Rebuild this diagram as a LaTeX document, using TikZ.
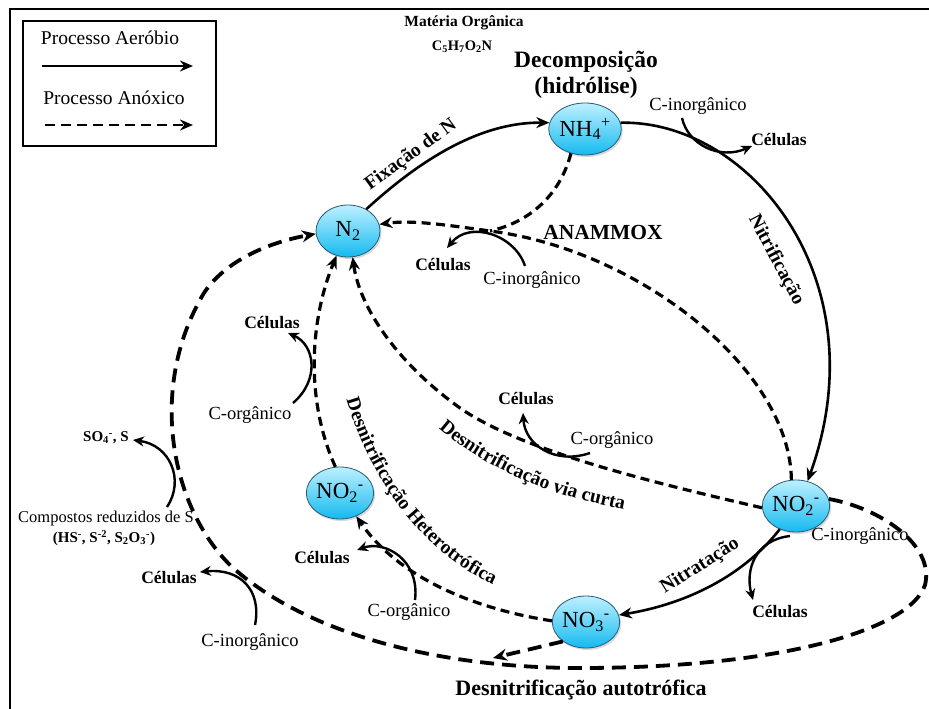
\documentclass[tikz,border=0pt]{standalone}
\usepackage{fontspec}
\setmainfont{Liberation Serif}
\usetikzlibrary{arrows.meta,shapes.geometric,shadows,decorations.text}
\definecolor{topcyan}{RGB}{190,240,255}
\definecolor{botcyan}{RGB}{20,186,240}
\definecolor{edgeblue}{RGB}{40,90,120}
\begin{document}
\begin{tikzpicture}[x=1pt,y=1pt,
  every node/.style={inner sep=0pt},
  chem/.style={ellipse, draw=edgeblue, line width=0.8pt, minimum width=64pt, minimum height=52pt,
    top color=topcyan, bottom color=botcyan,
    drop shadow={opacity=0.3,shadow xshift=1.5pt,shadow yshift=-2pt},
    font=\fontsize{23}{23}\selectfont},
  aer/.style={line width=2.6pt, -{Stealth[length=13pt,width=11pt]}},
  anox/.style={line width=3.2pt, dash pattern=on 9pt off 5.5pt, -{Stealth[length=13pt,width=11pt]}},
  autoloop/.style={line width=3.8pt, dash pattern=on 14pt off 8pt},
  smallarr/.style={line width=2.4pt, -{Stealth[length=11pt,width=10pt]}},
  lbl/.style={font=\bfseries\fontsize{19.5}{19.5}\selectfont},
  cel/.style={font=\bfseries\fontsize{17.5}{17.5}\selectfont},
  carb/.style={font=\fontsize{18.5}{18.5}\selectfont},
]
\useasboundingbox (0,0) rectangle (929,-709);
\fill[white] (0,0) rectangle (929,-709);
\draw[line width=2.5pt] (10,-730) -- (10,-9) -- (950,-9);

% legend
\node[draw, line width=2pt, minimum width=193pt, minimum height=125pt] (legend) at (119.5,-83.5) {};
\node[font=\fontsize{19.5}{19.5}\selectfont] (lgA) at (110,-38) {Processo Aeróbio};
\node[font=\fontsize{19.5}{19.5}\selectfont] (lgB) at (114,-98) {Processo Anóxico};
\coordinate (la1) at (42,-66); \coordinate (la2) at (193,-66);
\coordinate (lb1) at (45,-125); \coordinate (lb2) at (193,-125);
\draw[aer] (la1) -- (la2);
\draw[anox, line width=2.8pt, dash pattern=on 10pt off 6pt] (lb1) -- (lb2);

% top texts
\node[font=\bfseries\fontsize{15.5}{15.5}\selectfont] (mo) at (464,-23) {Matéria Orgânica};
\node[font=\bfseries\fontsize{14.5}{14.5}\selectfont] (form) at (462,-47) {C\textsubscript{5}H\textsubscript{7}O\textsubscript{2}N};
\node[font=\bfseries\fontsize{23.5}{23.5}\selectfont] (dec1) at (586,-62) {Decomposição};
\node[font=\bfseries\fontsize{23.5}{23.5}\selectfont] (dec2) at (586,-88) {(hidrólise)};

% chemical species
\node[chem] (N2) at (348,-231) {N\textsubscript{2}};
\node[chem] (NH4) at (585,-129) {NH\textsubscript{4}\textsuperscript{+}};
\node[chem] (NO2L) at (340,-493) {NO\textsubscript{2}\textsuperscript{-}};
\node[chem] (NO2R) at (796,-506) {NO\textsubscript{2}\textsuperscript{-}};
\node[chem] (NO3) at (586,-622) {NO\textsubscript{3}\textsuperscript{-}};

% process labels
\node[lbl, rotate=36] (lfix) at (411,-155) {Fixação de N};
\node[lbl, rotate=-62] (lnit) at (776,-260) {Nitrificação};
\node[font=\bfseries\fontsize{21.5}{21.5}\selectfont] (lana) at (603,-232) {ANAMMOX};
\path[decorate, decoration={text along path, text align=center,
  text={|\bfseries\fontsize{19.5}{19.5}\selectfont|Desnitrificação via curta}}]
  (424,-414) .. controls (470,-462) and (545,-498) .. (644,-513);
\path[decorate, decoration={text along path, text align=center,
  text={|\bfseries\fontsize{19.5}{19.5}\selectfont|Desnitrificação Heterotrófica}}]
  (341,-380) .. controls (363,-470) and (420,-560) .. (512,-592);
\node[lbl, rotate=32] (lntt) at (700,-566) {Nitratação};
\node[font=\bfseries\fontsize{22}{22}\selectfont] (laut) at (581,-690) {Desnitrificação autotrófica};

% main aerobic arrows
\draw[aer] (N2.50) .. controls (420,-160) and (480,-122) .. (NH4.170);
\draw[aer] (NH4.10) .. controls (750,-120) and (880,-280) .. (NO2R.65);
\draw[aer] (NO2R.235) .. controls (740,-580) and (680,-605) .. (NO3.12);

% anoxic arrows
\coordinate (jA) at (490,-231);
\draw[anox] (NO2R.100) .. controls (790,-370) and (640,-250) .. (jA) .. controls (440,-224) and (410,-220) .. (N2.12);
\draw[anox, -] (NH4.240) .. controls (560,-195) and (530,-222) .. (jA);
\draw[anox] (NO2R.183) .. controls (650,-482) and (520,-450) .. (460,-408) .. controls (400,-365) and (360,-310) .. (N2.280);
\draw[anox] (NO2L.100) .. controls (305,-400) and (310,-320) .. (N2.245);
\draw[anox] (NO3.178) .. controls (480,-610) and (400,-580) .. (NO2L.305);

% autotrophic loop
\draw[autoloop, -{Stealth[length=14pt,width=12pt]}] (NO2R.12) .. controls (880,-508) and (935,-545) .. (925,-585)
  .. controls (910,-630) and (780,-668) .. (580,-668)
  .. controls (430,-668) and (300,-630) .. (230,-565)
  .. controls (170,-505) and (150,-390) .. (200,-300)
  .. controls (215,-270) and (255,-245) .. (N2.185);
\coordinate (jB) at (493,-658);
\draw[autoloop, -{Stealth[length=14pt,width=12pt]}] (NO3.220) -- (jB);

% small carbon / cell arrows
\node[carb] (ci1) at (698,-106) {C-inorgânico};
\node[cel] (ce1) at (779,-140) {Células};
\coordinate (s1a) at (682,-118); \coordinate (s1b) at (752,-146);
\draw[smallarr] (s1a) .. controls (688,-145) and (720,-160) .. (s1b);

\node[cel] (ce2) at (443,-265) {Células};
\node[carb] (ci2) at (532,-280) {C-inorgânico};
\coordinate (s2a) at (525,-266); \coordinate (s2b) at (447,-248);
\draw[smallarr] (s2a) .. controls (515,-235) and (470,-220) .. (s2b);

\node[cel] (ce3) at (526,-399) {Células};
\node[carb] (co3) at (612,-440) {C-orgânico};
\coordinate (s3a) at (590,-453); \coordinate (s3b) at (523,-413);
\draw[smallarr] (s3a) .. controls (555,-465) and (525,-445) .. (s3b);

\node[cel] (ce4) at (272,-323) {Células};
\node[carb] (co4) at (250,-415) {C-orgânico};
\coordinate (s4a) at (293,-403); \coordinate (s4b) at (288,-333);
\draw[smallarr] (s4a) .. controls (320,-380) and (315,-345) .. (s4b);

\node[cel] (ce5) at (322,-558) {Células};
\node[carb] (co5) at (409,-612) {C-orgânico};
\coordinate (s5a) at (415,-600); \coordinate (s5b) at (357,-550);
\draw[smallarr] (s5a) .. controls (420,-560) and (385,-540) .. (s5b);

\node[carb] (ci6) at (860,-536) {C-inorgânico};
\node[cel] (ce6) at (780,-612) {Células};
\coordinate (s6a) at (790,-536); \coordinate (s6b) at (753,-600);
\draw[smallarr] (s6a) .. controls (755,-540) and (745,-570) .. (s6b);

\node[cel] (ce7) at (169,-578) {Células};
\node[carb] (ci7) at (250,-642) {C-inorgânico};
\coordinate (s7a) at (255,-625); \coordinate (s7b) at (200,-572);
\draw[smallarr] (s7a) .. controls (262,-590) and (240,-568) .. (s7b);

% sulphur
\node[font=\bfseries\fontsize{15}{15}\selectfont] (so4) at (106,-438) {SO\textsubscript{4}\textsuperscript{-}, S};
\node[font=\fontsize{16.5}{16.5}\selectfont] (crs) at (106,-519) {Compostos reduzidos de S};
\node[font=\bfseries\fontsize{15}{15}\selectfont] (crs2) at (104,-538) {(HS\textsuperscript{-}, S\textsuperscript{-2}, S\textsubscript{2}O\textsubscript{3}\textsuperscript{-})};
\coordinate (s8a) at (167,-507); \coordinate (s8b) at (133,-440);
\draw[smallarr] (s8a) .. controls (185,-480) and (170,-445) .. (s8b);
\end{tikzpicture}
\end{document}
